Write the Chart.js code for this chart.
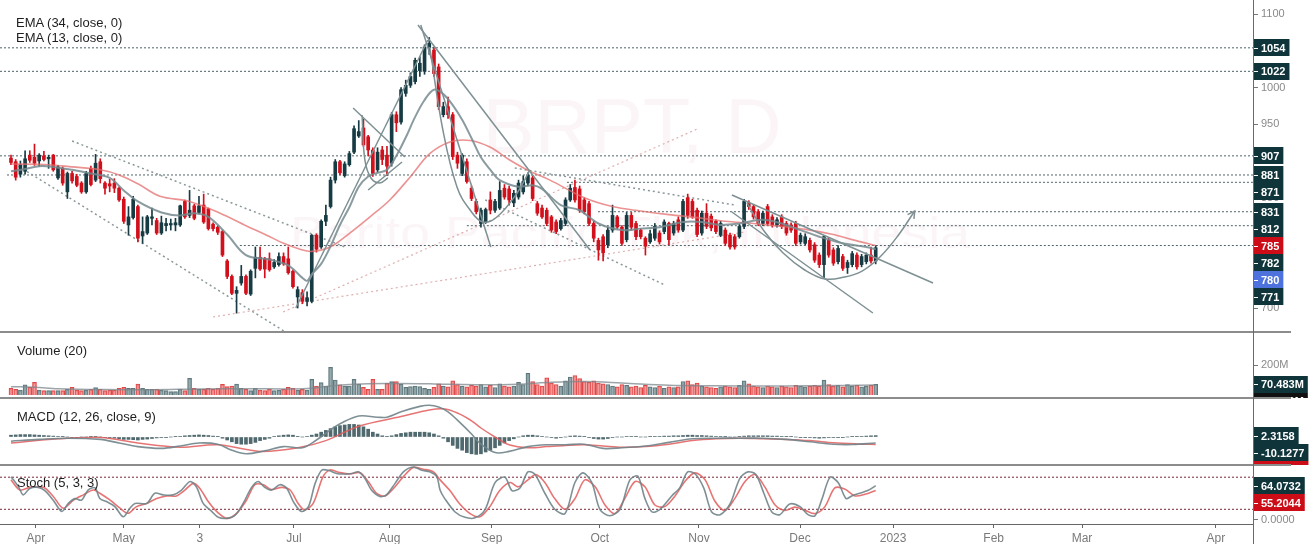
<!DOCTYPE html>
<html><head><meta charset="utf-8">
<script src="https://cdn.jsdelivr.net/npm/chart.js@4.4.1/dist/chart.umd.min.js"></script>
<style>
html,body{margin:0;padding:0;background:#fff;}
#wrap{position:relative;width:1316px;height:544px;overflow:hidden;font-family:"Liberation Sans",Arial,sans-serif;background:#fff;}
canvas{position:absolute;left:0;}
.t{position:absolute;font-size:13px;line-height:15px;color:#1e1e1e;white-space:pre;z-index:5;}
.sep{position:absolute;left:0;background:#8c8c8c;z-index:4;}
</style></head><body>
<div id="wrap">
<canvas id="cMain" width="1316" height="332" style="top:0px"></canvas>
<canvas id="cVol" width="1316" height="66" style="top:332px"></canvas>
<canvas id="cMacd" width="1316" height="67" style="top:398px"></canvas>
<canvas id="cSto" width="1316" height="79" style="top:465px"></canvas>
<div class="sep" style="top:331px;width:1291px;height:2px"></div>
<div class="sep" style="top:397px;width:1291px;height:2px"></div>
<div class="sep" style="top:464px;width:1291px;height:2px"></div>
<div class="sep" style="top:524px;width:1254px;height:1px;background:#666"></div>
<div class="sep" style="top:0px;left:1253px;width:1px;height:544px;background:#6a6a6a"></div>
<div class="t" style="left:16px;top:15px">EMA (34, close, 0)</div>
<div class="t" style="left:16px;top:30px">EMA (13, close, 0)</div>
<div class="t" style="left:17px;top:343px">Volume (20)</div>
<div class="t" style="left:17px;top:409px">MACD (12, 26, close, 9)</div>
<div class="t" style="left:17px;top:475px">Stoch (5, 3, 3)</div>
</div>
<script>
// ---------------- DATA ----------------
const opens = [904,899,882,886,908,905,900,907,903,908,
877,890,858,883,879,870,858,890,874,899,
870,869,870,863,848,813,823,838,798,802,
822,819,802,812,813,813,813,845,826,839,
830,840,835,814,810,804,764,743,720,734,
743,719,754,769,767,767,756,759,770,767,
750,715,721,709,709,799,783,818,838,874,
899,880,895,912,934,945,933,915,888,915,
908,897,963,953,992,1003,1008,1023,1022,1054,
1051,1028,963,974,963,908,883,899,863,845,
815,817,847,833,836,863,862,843,851,858,
870,877,842,836,833,824,817,808,815,847,
864,862,847,842,815,792,797,786,806,824,
810,793,826,815,806,795,790,795,802,804,
815,802,820,806,850,845,833,802,829,825,
818,799,806,799,797,797,811,843,838,831,
815,838,824,813,824,815,813,815,790,788,
792,786,772,759,792,779,763,770,755,759,
772,759,763,772,764];
const highs = [908,902,900,914,914,923,910,913,908,909,
894,892,885,886,882,872,886,893,909,903,
872,875,876,865,851,838,852,840,824,826,
836,822,825,822,821,822,840,847,860,841,
852,855,836,816,812,806,766,745,729,758,
745,752,783,783,769,775,766,775,775,783,
752,729,725,722,800,801,820,840,878,902,
901,899,913,948,955,957,935,918,918,920,
920,966,967,1000,1010,1020,1040,1042,1058,1068,
1055,1032,980,987,966,912,910,903,866,848,
836,836,858,848,872,868,866,860,874,880,
884,880,845,840,836,826,820,822,850,868,
874,866,850,845,818,795,800,810,840,826,
812,830,830,818,808,797,806,815,805,820,
817,818,824,848,855,848,836,832,842,828,
820,818,809,802,800,814,848,846,841,834,
832,841,827,823,827,818,816,818,802,801,
795,789,775,799,795,782,785,773,765,777,
775,773,775,783,785];
const lows = [895,874,878,882,898,894,893,900,890,886,
875,867,849,870,865,856,856,866,872,870,
855,858,857,845,815,799,821,790,788,800,
813,800,800,805,806,805,811,822,823,820,
828,815,806,805,800,770,740,718,693,731,
718,717,741,751,741,750,754,757,758,746,
727,700,706,703,707,776,781,812,836,870,
881,878,893,910,932,920,907,879,885,895,
880,893,940,950,988,1000,1005,1015,1018,1045,
1015,970,960,958,902,890,880,870,846,828,
810,815,828,830,834,848,840,838,848,855,
866,846,826,822,812,803,801,806,812,845,
844,830,828,812,790,765,764,782,803,808,
785,790,806,793,794,772,788,792,787,801,
786,799,803,804,822,822,797,799,808,805,
801,797,785,780,780,795,808,834,821,812,
812,812,810,810,808,799,803,785,787,786,
776,762,755,741,769,758,760,751,747,756,
753,756,760,761,760];
const closes = [898,878,895,903,901,897,908,902,905,888,
892,870,883,873,867,858,883,868,897,876,
863,866,863,847,818,824,848,795,804,824,
824,802,816,815,815,816,839,824,833,822,
839,817,808,808,803,772,743,720,724,743,
720,750,769,753,753,752,762,770,760,748,
729,725,709,714,799,780,818,826,874,899,
884,896,910,944,940,922,915,883,912,902,
893,963,952,997,1003,1015,1037,1033,1055,1060,
1019,974,974,963,906,897,908,872,849,831,
833,834,833,845,860,851,847,856,870,872,
881,849,829,824,815,806,804,819,847,863,
847,833,831,815,795,779,775,806,826,810,
788,826,810,797,797,784,801,811,790,817,
793,815,806,845,826,824,800,829,811,809,
804,815,788,783,783,811,845,838,824,815,
829,815,813,820,811,802,806,788,799,797,
779,765,759,797,772,761,781,754,762,774,
756,770,772,764,782];
// volume, millions of shares
const volumes = [44,38,33,67,51,84,33,29,29,29,
29,29,38,51,33,29,33,38,49,38,
29,33,33,44,51,44,44,73,44,38,
38,38,33,29,22,22,38,29,111,44,
38,38,44,38,44,71,56,60,73,44,
38,29,44,33,29,38,29,33,38,51,
44,33,38,33,104,60,82,60,184,100,
67,60,60,104,73,51,38,104,38,38,
78,89,89,73,51,56,60,56,44,38,
51,75,60,55,95,70,60,55,65,60,
70,55,65,50,75,60,55,60,85,70,
145,90,70,60,115,80,70,60,95,120,
130,110,90,85,95,80,75,70,60,55,
70,65,55,60,50,65,55,50,60,45,
55,50,55,90,95,70,80,60,55,50,
45,55,60,55,50,65,95,75,60,55,
50,60,55,50,60,55,50,65,60,55,
60,65,60,100,70,60,65,55,70,60,
65,55,60,65,70.483];
const volMaIdx = [0,5,10,20,30,40,50,60,64,68,72,80,90,100,108,115,122,130,140,150,160,170,184];
const volMaVal = [55,52,42,36,35,40,42,40,45,60,70,76,74,68,72,85,90,80,65,62,60,62,66];

const ema34Idx = [0,8,13,19,23,27,31.7,38,44.5,50,54.4,58,61.5,64,67.9,72.1,76.4,80.6,84.9,89.1,93.4,97.7,101.9,106.2,110.4,114.7,122,128,134,140,146,152,158,164,170,175,179,184];
const ema34Val = [896,895,892,888,881,869,852,845,829,812,799,788,780,777,783,802,824,847,878,910,926,928,919,901,886,874,850,838,832,827,823,818,815,811,806,800,793,785];
const ema13Idx = [0,3,6,9,13,17,21,24,27,32,36,39,42,46,50,55,59,62,63,64,66,68,70,72,74,76,78,80,82,84,86,88,90,92,94,96,98,100,102,104,108,111,113,117,121,125,130,134,138,143,147,151,155,160,164,168,172,177,182,184];
const ema13Val = [886,889,893,892,888,883,877,860,845,830,826,829,824,800,772,766,758,741,737,746,760,784,813,837,865,879,884,888,907,932,960,983,997,991,976,956,931,905,888,874,865,867,862,840,833,815,806,808,810,817,817,813,815,820,815,806,797,788,783,780];

const macdHist = [3,3.5,4,4,4,3.5,3,2.5,2,1.5,
1,0.5,0,-0.5,-0.5,0,0,0.3,0.5,0,
-1,-1.5,-2,-3,-4,-4,-4.5,-5,-4,-3.5,
-2.5,-1.5,-1,-0.5,0,0.5,1,2,2.5,3,
3.5,3,2.5,1.5,0.5,-2,-5,-8,-11,-12,
-12,-11,-9,-6,-4,-2,1,2,3,3.5,
3,0.5,0,1,3,5,8,11,14,17,
19,20,21,21,20,17,13,8,5,2,
0.5,2,4,6,7,8,8,8,8,7,
5,2,-2,-8,-14,-19,-22,-26,-28,-29,
-28,-25,-22,-18,-14,-10,-6,-3,0,2,
3,3,2,1,0,-1,-2,-1,0,1.5,
2,1.5,0.5,-1,-2.5,-3.5,-3.5,-2.5,-1,0,
0,1,1,0.5,0,0,0.5,1,1,1.5,
1.5,2,2,2.5,3,3,2.5,2.5,2,1.5,
1,1,0.5,0,0,0.5,1.5,2,2,2,
2,2,1.5,1.5,1,0.5,0.5,0,-0.5,-0.5,
-1,-1.5,-2,-1.5,-1,-1,-0.5,-0.5,0,0.5,
0.5,1,1.5,2,2.3158];
const macdIdx = [0,6,12,19,23,27,32,36,40,44,47,50,54,58,62,65,68,70,74,78,80,83,87,89,91,93,95,98,100,103,106,110,114,118,122,126,130,135,140,145,150,155,160,165,170,175,179,184];
const macdVal = [-7,-4,-2,-4,-10,-16,-19,-15,-10,-12,-22,-28,-23,-16,-18,-5,12,22,35,33,33,42,51,53,50,42,28,5,-12,-26,-24,-16,-13,-13,-12,-19,-18,-15,-9,-3,-2,-2,-2,-4,-8,-12,-12.5,-10.1277];
const signalIdx = [0,10,19,27,36,44,53,61,67,74,83,89,92,95,98,100,103,106,110,114,118,122,126,130,135,140,145,150,155,160,165,170,175,180,184];
const signalVal = [-10,-3,-1,-10,-17,-13,-24,-18,-6,18,34,45,47,40,27,15,0,-13,-18,-16,-14,-13,-15,-17,-16,-12,-6,-3,-2,-3,-4,-6,-9.5,-11.5,-12.4435];

const stochKIdx = [0,1.6,2.6,4,5.8,7.2,9,10.8,12.2,13.6,15,16.4,17.9,18.9,20.4,22.1,23.9,25.3,26.4,28.9,30.6,32.4,34.5,36.3,38.1,39.5,40.9,42.7,44.1,45.9,47.7,49.4,51.2,52.6,54,55.5,57.2,58.7,60.1,61.8,63.3,64.7,66.1,67.5,69.3,70.7,72.5,73.9,75.3,76.7,78.5,79.9,81.7,83.5,85.6,87.4,89.1,90.6,91.3,92.3,94.5,96.6,98.7,100.9,103,105.1,106.6,108.3,110,111.5,113.6,115.7,117.9,120,121.7,123.6,125.3,127.4,129.6,131.7,133.4,134.9,136.4,138.1,140.6,142.3,144,145.7,147.4,149.1,150.9,153,155.1,156.8,158.5,160.2,161.9,163.6,165.7,167.9,169.6,171.1,172.6,174.3,176,177.7,178.9,180.6,182.3,184];
const stochKVal = [81,62,47,59,61,55,37,16,31,40,37,56,60,40,34,25,6,22,31,31,50,47,47,56,72,61,31,16,5,3,9,31,61,72,61,56,66,59,34,16,25,68,93,93,87,86,87,90,78,56,44,47,68,90,99,93,90,81,56,40,15,5,4,20,70,80,55,60,90,85,50,20,12,70,88,70,20,8,20,75,82,40,15,20,45,60,90,85,60,15,10,30,78,90,85,50,15,10,30,25,10,8,40,80,70,40,45,50,55,64.0732];
const stochDIdx = [0,1.9,4,6.9,9,11.1,13.3,15.4,17.5,18.9,21.1,23.2,24.9,26.7,28.9,31,33.1,35.2,37,38.8,40.2,42,43.8,45.9,48,50.1,51.9,53.7,55.4,57.6,59.4,61.1,62.5,64.3,66.4,67.9,70,72.1,74.3,76,77.8,79.6,81.4,83.5,85.6,87.7,89.9,91.3,93.4,95.5,97.7,99.8,101.9,104,106.2,107.9,110,111.7,113.6,115.7,117.9,120,122.1,124.3,126.4,128.5,130.6,132.8,134.9,137,139.1,141.3,143.4,145.5,147.7,149.8,151.9,154,156.2,158.3,160.4,162.6,164.7,166.8,169,171.1,173.2,175.3,177.4,179.6,181.7,184];
const stochDVal = [75,56,61,61,44,22,37,47,56,50,37,22,12.5,25,31,40,45,45,56,68.5,59,34,15.6,3,12.5,37,66,66,57,61,56,31,18.7,31,81,93.5,88.5,86,88.5,72,50,45,59,81,98,95,90,75,55,30,12,6,25,55,70,62,75,85,70,40,20,40,75,62,28,12,40,72,62,28,25,45,72,88,75,35,18,40,72,85,62,28,18,24,18,12,25,60,58,45,48,55.2044];

// horizontal levels and drawings (bar index, price)
const levelPrices = [1054,1022,907,881,871,831,812,785];
const levelStartIdx = [-2.34,-2.34,-2.34,-0.85,118.3,124.9,97,48.7];
const dotChannelUpper = [[13,927.2],[71.1,783]];
const dotChannelLower = [[-0.2,900],[58.3,667.8]];
const dotSepUpper = [[107.2,890.5],[154,840.1]];
const dotSepLower = [[100.9,847.1],[139.1,731.3]];
const pinkSteep = [[57.9,694.6],[146,943.5]];
const pinkFlat = [[43,687.8],[156.2,803.4]];
const lineRise = [[60.6,700],[88.7,1064.6]];
const lineFallSteep = [[87.2,1085],[102.1,783]];
const lineFallLong = [[86.6,1085],[123.2,778.9]];
const flagTop = [[72.8,972.1],[83.8,905.4]];
const flagBottom = [[76,860.5],[83.2,898.6]];
const smallCup = [[74.7,962.6],[75.3,901.4],[76.6,876.9],[78.5,870.1],[80.2,876.9]];
const peakArc = [[89.1,1055.1],[91.9,942.2],[94.9,864.6],[97.7,833.3],[100.4,817],[103.4,823.8],[107.7,856.5],[110.4,887.8]];
const decLineA = [[153.4,853.7],[196.2,734]];
const decLineB = [[153.4,830.6],[183.4,693.2]];
const cupArrow = [[156.6,842.9],[160.4,803.4],[164.3,774.8],[168.9,751.7],[173.2,739.5],[177.4,742.2],[181.1,750.3],[184.9,769.4],[188.7,798],[192.3,832]];

const mainTicks = [1100,1050,1000,950,900,850,800,750,700];
const priceTagVals = [1054,1022,907,881,871,831,812];
const otherTagVal = 771;
const xTickLabels = ['Apr','May','3','Jul','Aug','Sep','Oct','Nov','Dec','2023','Feb','Mar','Apr'];
const xTickIdx = [5.3,24.0,40.2,60.2,80.6,102.3,125.3,146.4,167.9,187.7,209.1,227.9,256.4];

// ---------------- RENDER ----------------
const X_MIN = -2.34, X_MAX = 264.5;
const FF = '"Liberation Sans", Arial, sans-serif';
Chart.defaults.font.family = FF;
Chart.defaults.animation = false;
const UP = '#173b43', DN = '#d2101c', TAG = '#0f353b';
const idx = closes.map((_, i) => i);
const isUp = idx.map(i => closes[i] >= opens[i]);
const pts = a => a.map(([x, y]) => ({x, y}));
const zip = (xs, ys) => xs.map((x, i) => ({x, y: ys[i]}));

function xAxis(show) {
  return {type: 'linear', min: X_MIN, max: X_MAX, offset: false, display: show,
    grid: {display: true, drawOnChartArea: false, drawTicks: true, tickLength: 3, color: '#666'},
    border: {display: false},
    afterFit(s) { s.paddingLeft = 0; s.paddingRight = 0; if (show) s.height = 19; },
    afterBuildTicks(s) { s.ticks = xTickIdx.map(v => ({value: v})); },
    ticks: {autoSkip: false, maxRotation: 0, color: '#7a7a7a', font: {size: 12}, padding: 3,
      callback: (v, i) => xTickLabels[i]}};
}
function yAxis(min, max, ticks, fmt) {
  return {position: 'right', min, max,
    afterFit(s) { s.width = 62; s.paddingTop = 0; s.paddingBottom = 0; },
    afterBuildTicks(s) { s.ticks = ticks.map(v => ({value: v})); },
    ticks: {autoSkip: false, color: '#8a8a8a', font: {size: 11}, padding: 3, callback: fmt},
    grid: {display: true, drawOnChartArea: false, drawTicks: true, tickLength: 4, color: '#777'},
    border: {display: false}};
}
function tagPlugin(items) {
  return {id: 'tags', afterDraw(chart) {
    const ys = chart.scales.y, ctx = chart.ctx, x0 = chart.chartArea.right, H = 17;
    const arr = items.map(it => Object.assign({p: ys.getPixelForValue(it.value)}, it)).sort((a, b) => a.p - b.p);
    let prev = -1e9;
    ctx.save();
    ctx.font = 'bold 11px ' + FF;
    ctx.textBaseline = 'middle';
    for (const it of arr) {
      const c = Math.max(it.p, prev + H); prev = c;
      const w = ctx.measureText(it.text).width + 11;
      ctx.fillStyle = it.bg;
      ctx.fillRect(x0, Math.round(c - H / 2), w, H);
      ctx.strokeStyle = '#fff'; ctx.lineWidth = 1;
      ctx.beginPath(); ctx.moveTo(x0, Math.round(c) + 0.5); ctx.lineTo(x0 + 4, Math.round(c) + 0.5); ctx.stroke();
      ctx.fillStyle = '#fff';
      ctx.fillText(it.text, x0 + 7, Math.round(c) + 1);
    }
    ctx.restore();
  }};
}
const baseOpts = {responsive: false, maintainAspectRatio: false, events: [],
  layout: {padding: 0}, plugins: {legend: {display: false}, tooltip: {enabled: false}}};
const lineDs = (data, color, width, extra) => Object.assign({type: 'line', data, borderColor: color,
  borderWidth: width, pointRadius: 0, fill: false, tension: 0}, extra || {});

// ---------- main price pane ----------
const watermark = {id: 'wm', beforeDatasetsDraw(chart) {
  const ctx = chart.ctx;
  ctx.save();
  ctx.fillStyle = 'rgba(222,170,190,0.12)';
  ctx.textAlign = 'center';
  ctx.font = '78px ' + FF;
  ctx.fillText('BRPT, D', 632, 153);
  ctx.font = '44px ' + FF;
  const txt = 'Barito Pacific Tbk, Indonesia';
  const w = ctx.measureText(txt).width;
  ctx.translate(630, 248);
  ctx.scale(680 / w, 1);
  ctx.fillText(txt, 0, 0);
  ctx.restore();
}};
const arrowHead = {id: 'arrow', afterDatasetsDraw(chart) {
  chart.data.datasets.forEach((ds, di) => {
    if (!ds.isArrow) return;
    const els = chart.getDatasetMeta(di).data;
    const a = els[els.length - 2], b = els[els.length - 1];
    const ang = Math.atan2(b.y - a.y, b.x - a.x);
    const ctx = chart.ctx;
    ctx.save();
    ctx.strokeStyle = ds.borderColor; ctx.lineWidth = 1.5;
    ctx.beginPath();
    ctx.moveTo(b.x - 8 * Math.cos(ang - 0.5), b.y - 8 * Math.sin(ang - 0.5));
    ctx.lineTo(b.x, b.y);
    ctx.lineTo(b.x - 8 * Math.cos(ang + 0.5), b.y - 8 * Math.sin(ang + 0.5));
    ctx.stroke();
    ctx.restore();
  });
}};
const mainDs = [];
levelPrices.forEach((p, k) => mainDs.push(lineDs([{x: levelStartIdx[k], y: p}, {x: X_MAX, y: p}], '#4f646a', 1, {borderDash: [2, 2], order: 9})));
[dotChannelUpper, dotChannelLower, dotSepUpper, dotSepLower].forEach(d => mainDs.push(lineDs(pts(d), '#8b989b', 1.5, {borderDash: [2, 3], order: 8})));
[pinkSteep, pinkFlat].forEach(d => mainDs.push(lineDs(pts(d), 'rgba(212,150,150,0.75)', 1.2, {borderDash: [2, 3], order: 8})));
mainDs.push({type: 'bar', data: idx.map(i => ({x: i, y: [lows[i], highs[i]]})), backgroundColor: idx.map(i => isUp[i] ? UP : DN),
  barThickness: 1, grouped: false, order: 6});
mainDs.push({type: 'bar', data: idx.map(i => ({x: i, y: [opens[i], closes[i]]})), backgroundColor: idx.map(i => isUp[i] ? UP : DN),
  barThickness: 3, minBarLength: 1, grouped: false, order: 5});
mainDs.push(lineDs(zip(ema34Idx, ema34Val), 'rgba(228,110,110,0.75)', 1.6, {tension: 0.35, order: 4}));
mainDs.push(lineDs(zip(ema13Idx, ema13Val), 'rgba(118,138,143,0.85)', 2, {tension: 0.35, order: 3}));
[lineRise, lineFallSteep, lineFallLong, flagTop, flagBottom, decLineA, decLineB].forEach(d => mainDs.push(lineDs(pts(d), '#7e9093', 1.5, {order: 2})));
[smallCup, peakArc].forEach(d => mainDs.push(lineDs(pts(d), '#7e9093', 1.5, {tension: 0.4, order: 2})));
mainDs.push(lineDs(pts(cupArrow), '#7e9093', 1.5, {tension: 0.4, order: 2, isArrow: true}));

const mainTags = priceTagVals.map(v => ({value: v, text: String(v), bg: TAG}));
mainTags.push({value: ema34Val[ema34Val.length - 1], text: String(ema34Val[ema34Val.length - 1]), bg: '#cc0c16'});
mainTags.push({value: closes[closes.length - 1], text: String(closes[closes.length - 1]), bg: TAG});
mainTags.push({value: ema13Val[ema13Val.length - 1], text: String(ema13Val[ema13Val.length - 1]), bg: '#4d72de'});
mainTags.push({value: otherTagVal, text: String(otherTagVal), bg: TAG});

new Chart(document.getElementById('cMain'), {type: 'bar', data: {datasets: mainDs},
  options: Object.assign({}, baseOpts, {scales: {x: xAxis(false), y: yAxis(667.35, 1119.05, mainTicks, v => String(v))}}),
  plugins: [watermark, arrowHead, tagPlugin(mainTags)]});

// ---------- volume pane ----------
new Chart(document.getElementById('cVol'), {type: 'bar', data: {datasets: [
  lineDs(zip(volMaIdx, volMaVal), 'rgba(125,135,140,0.75)', 1.5, {tension: 0.35, order: 1}),
  {type: 'bar', data: idx.map(i => ({x: i, y: volumes[i]})), order: 2, grouped: false, barThickness: 4,
   backgroundColor: idx.map(i => isUp[i] ? 'rgba(133,155,160,0.85)' : 'rgba(240,128,128,0.8)'),
   borderColor: idx.map(i => isUp[i] ? '#5d777c' : '#e04848'), borderWidth: 1}
]}, options: Object.assign({}, baseOpts, {scales: {x: xAxis(false), y: yAxis(-20, 420, [200], v => v + 'M')}}),
  plugins: [tagPlugin([{value: volumes[volumes.length - 1], text: volumes[volumes.length - 1].toFixed(3) + 'M', bg: TAG},
    {value: volMaVal[volMaVal.length - 1], text: volMaVal[volMaVal.length - 1].toFixed(3) + 'M', bg: '#111'}])]});

// ---------- MACD pane ----------
new Chart(document.getElementById('cMacd'), {type: 'bar', data: {datasets: [
  {type: 'bar', data: idx.map(i => ({x: i, y: macdHist[i]})), backgroundColor: '#50696e', barThickness: 3, grouped: false, order: 3},
  lineDs(zip(signalIdx, signalVal), 'rgba(226,92,92,0.85)', 1.5, {tension: 0.35, order: 2}),
  lineDs(zip(macdIdx, macdVal), 'rgba(112,132,137,0.9)', 1.6, {tension: 0.35, order: 1})
]}, options: Object.assign({}, baseOpts, {scales: {x: xAxis(false), y: yAxis(-46.67, 65, [0], () => '')}}),
  plugins: [tagPlugin([
    {value: macdHist[macdHist.length - 1], text: macdHist[macdHist.length - 1].toFixed(4), bg: TAG},
    {value: macdVal[macdVal.length - 1], text: macdVal[macdVal.length - 1].toFixed(4), bg: TAG},
    {value: signalVal[signalVal.length - 1], text: signalVal[signalVal.length - 1].toFixed(4), bg: '#cc0c16'}])]});

// ---------- Stochastic pane ----------
new Chart(document.getElementById('cSto'), {type: 'line', data: {datasets: [
  lineDs([{x: X_MIN, y: 80}, {x: X_MAX, y: 80}], '#7a2636', 1, {borderDash: [2, 2], order: 5}),
  lineDs([{x: X_MIN, y: 20}, {x: X_MAX, y: 20}], '#7a2636', 1, {borderDash: [2, 2], order: 5}),
  lineDs(zip(stochDIdx, stochDVal), 'rgba(226,92,92,0.85)', 1.6, {tension: 0.3, order: 2}),
  lineDs(zip(stochKIdx, stochKVal), 'rgba(112,132,137,0.9)', 1.6, {tension: 0.3, order: 1})
]}, options: Object.assign({}, baseOpts, {scales: {x: xAxis(true), y: yAxis(-9.35, 102.8, [0], v => v.toFixed(4))}}),
  plugins: [tagPlugin([
    {value: stochKVal[stochKVal.length - 1], text: stochKVal[stochKVal.length - 1].toFixed(4), bg: TAG},
    {value: stochDVal[stochDVal.length - 1], text: stochDVal[stochDVal.length - 1].toFixed(4), bg: '#cc0c16'}])]});
</script>
</body></html>
